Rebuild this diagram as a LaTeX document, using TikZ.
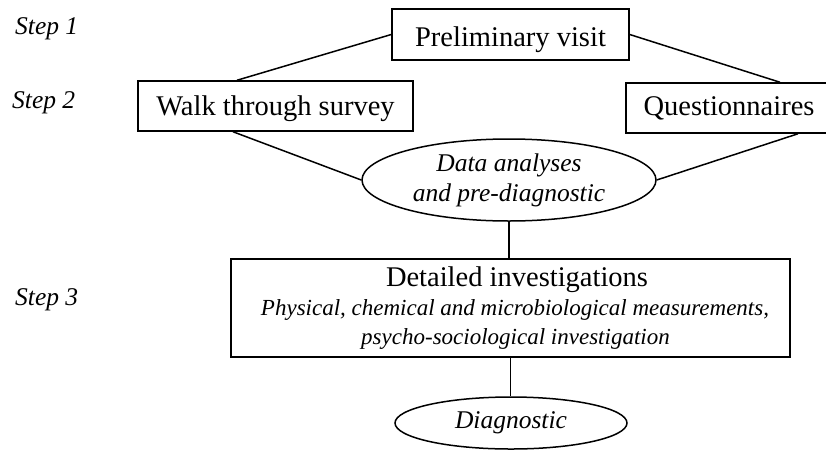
\documentclass[tikz,border=0pt]{standalone}
\usepackage{fontspec}
\setmainfont{Liberation Serif}
\usetikzlibrary{shapes.geometric}
\begin{document}
\begin{tikzpicture}[x=1pt,y=-1pt,
  box/.style={draw, line width=1.5pt, inner sep=0pt, font=\fontsize{28.5}{30}\selectfont},
  oval/.style={draw, ellipse, line width=1.5pt, inner sep=0pt, font=\fontsize{25.5}{30}\selectfont\itshape, align=center},
  steplabel/.style={anchor=base west, inner sep=0pt, font=\fontsize{25.5}{30}\selectfont\itshape},
  title/.style={anchor=base, inner sep=0pt, font=\fontsize{28.5}{30}\selectfont},
  detail/.style={anchor=base, inner sep=0pt, font=\fontsize{23}{28}\selectfont\itshape},
  link/.style={line width=1.5pt}]
\useasboundingbox (0,0) rectangle (826,450);
\node[steplabel] (s1) at (15,34) {Step 1};
\node[steplabel] (s2) at (12,108) {Step 2};
\node[steplabel] (s3) at (15,305) {Step 3};

\node[box, minimum width=237pt, text height=37pt, text depth=14pt] (pv) at (510.5,34.5) {Preliminary visit};
\node[box, minimum width=275pt, text height=34pt, text depth=16pt] (wt) at (275.5,106) {Walk through survey};
\node[box, minimum width=206pt, text height=32pt, text depth=18pt] (qu) at (729,108) {Questionnaires};

\node[oval, minimum width=294pt, minimum height=82pt] (da) at (509,180) {Data analyses\\and pre-diagnostic};

\node[draw, line width=1.5pt, inner sep=0pt, minimum width=559pt, minimum height=98pt] (det) at (510.5,308) {};
\node[title] (dt) at (517,286) {Detailed investigations};
\node[detail] (d1) at (515,315) {Physical, chemical and microbiological measurements,};
\node[detail] (d2) at (515.5,344) {psycho-sociological investigation};

\node[oval, minimum width=232pt, minimum height=52pt] (dg) at (511,423) {Diagnostic};

\draw[link] (pv.west) -- ([xshift=-38.5pt]wt.north);
\draw[link] (pv.east) -- ([xshift=51pt]qu.north);
\draw[link] ([xshift=-42.5pt]wt.south) -- (da.west);
\draw[link] ([xshift=69pt]qu.south) -- (da.east);
\draw[link] (da.south) -- (da.south |- det.north);
\draw[link] (det.south) -- (det.south |- dg.north);
\end{tikzpicture}
\end{document}
